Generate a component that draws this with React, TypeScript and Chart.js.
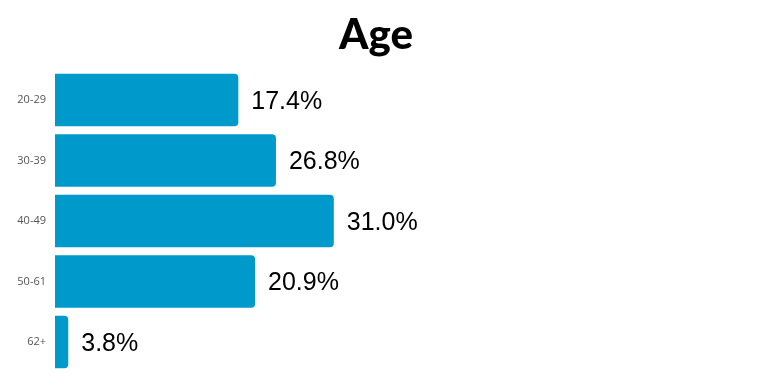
import React, { useEffect, useRef } from "react";
import { Chart, registerables } from "chart.js";

Chart.register(...registerables);

const categories = ["20-29", "30-39", "40-49", "50-61", "62+"];
const barValues = [26.3, 31.7, 40.0, 28.7, 1.9];
const valueLabels = ["17.4%", "26.8%", "31.0%", "20.9%", "3.8%"];
const titleText = "Age";

const labelPlugin = {
  id: "valueLabels",
  afterDatasetsDraw(chart: any) {
    const ctx = chart.ctx;
    const meta = chart.getDatasetMeta(0);
    ctx.save();
    ctx.font = "25px 'Liberation Sans', Arial, sans-serif";
    ctx.fillStyle = "#000";
    ctx.textAlign = "left";
    ctx.textBaseline = "middle";
    meta.data.forEach((bar: any, i: number) => {
      ctx.fillText(valueLabels[i], bar.x + 13, bar.y + 2);
    });
    ctx.restore();
  },
};

export default function App() {
  const ref = useRef<HTMLCanvasElement | null>(null);
  useEffect(() => {
    if (!ref.current) return;
    const chart = new Chart(ref.current, {
      type: "bar",
      data: {
        labels: categories,
        datasets: [
          {
            data: barValues,
            backgroundColor: "#0099cc",
            borderRadius: 4,
            borderSkipped: "start",
            barPercentage: 0.93,
            categoryPercentage: 0.93,
          },
        ],
      },
      options: {
        indexAxis: "y",
        animation: false,
        responsive: true,
        maintainAspectRatio: false,
        layout: { padding: { top: 0, bottom: 12.75, left: 0, right: 28 } },
        plugins: {
          legend: { display: false },
          tooltip: { enabled: false },
          title: {
            display: true,
            text: titleText,
            color: "#000",
            font: { family: "Lato", size: 42, weight: "900" as any, lineHeight: 1.2 },
            padding: { top: 10, bottom: 9.35 },
          },
        },
        scales: {
          x: { display: false, min: 0, max: 100 },
          y: {
            grid: { display: false, drawTicks: false },
            border: { display: false },
            afterFit(scale: any) {
              scale.width = 55;
              scale.paddingTop = 0;
              scale.paddingBottom = 0;
            },
            ticks: {
              color: "#555",
              padding: 9,
              font: { family: "'Open Sans'", size: 11 },
            },
          },
        },
      },
      plugins: [labelPlugin],
    });
    return () => chart.destroy();
  }, []);
  return (
    <div style={{ position: "fixed", left: 0, top: 0, width: 780, height: 385, background: "#fff" }}>
      <canvas ref={ref} />
    </div>
  );
}
